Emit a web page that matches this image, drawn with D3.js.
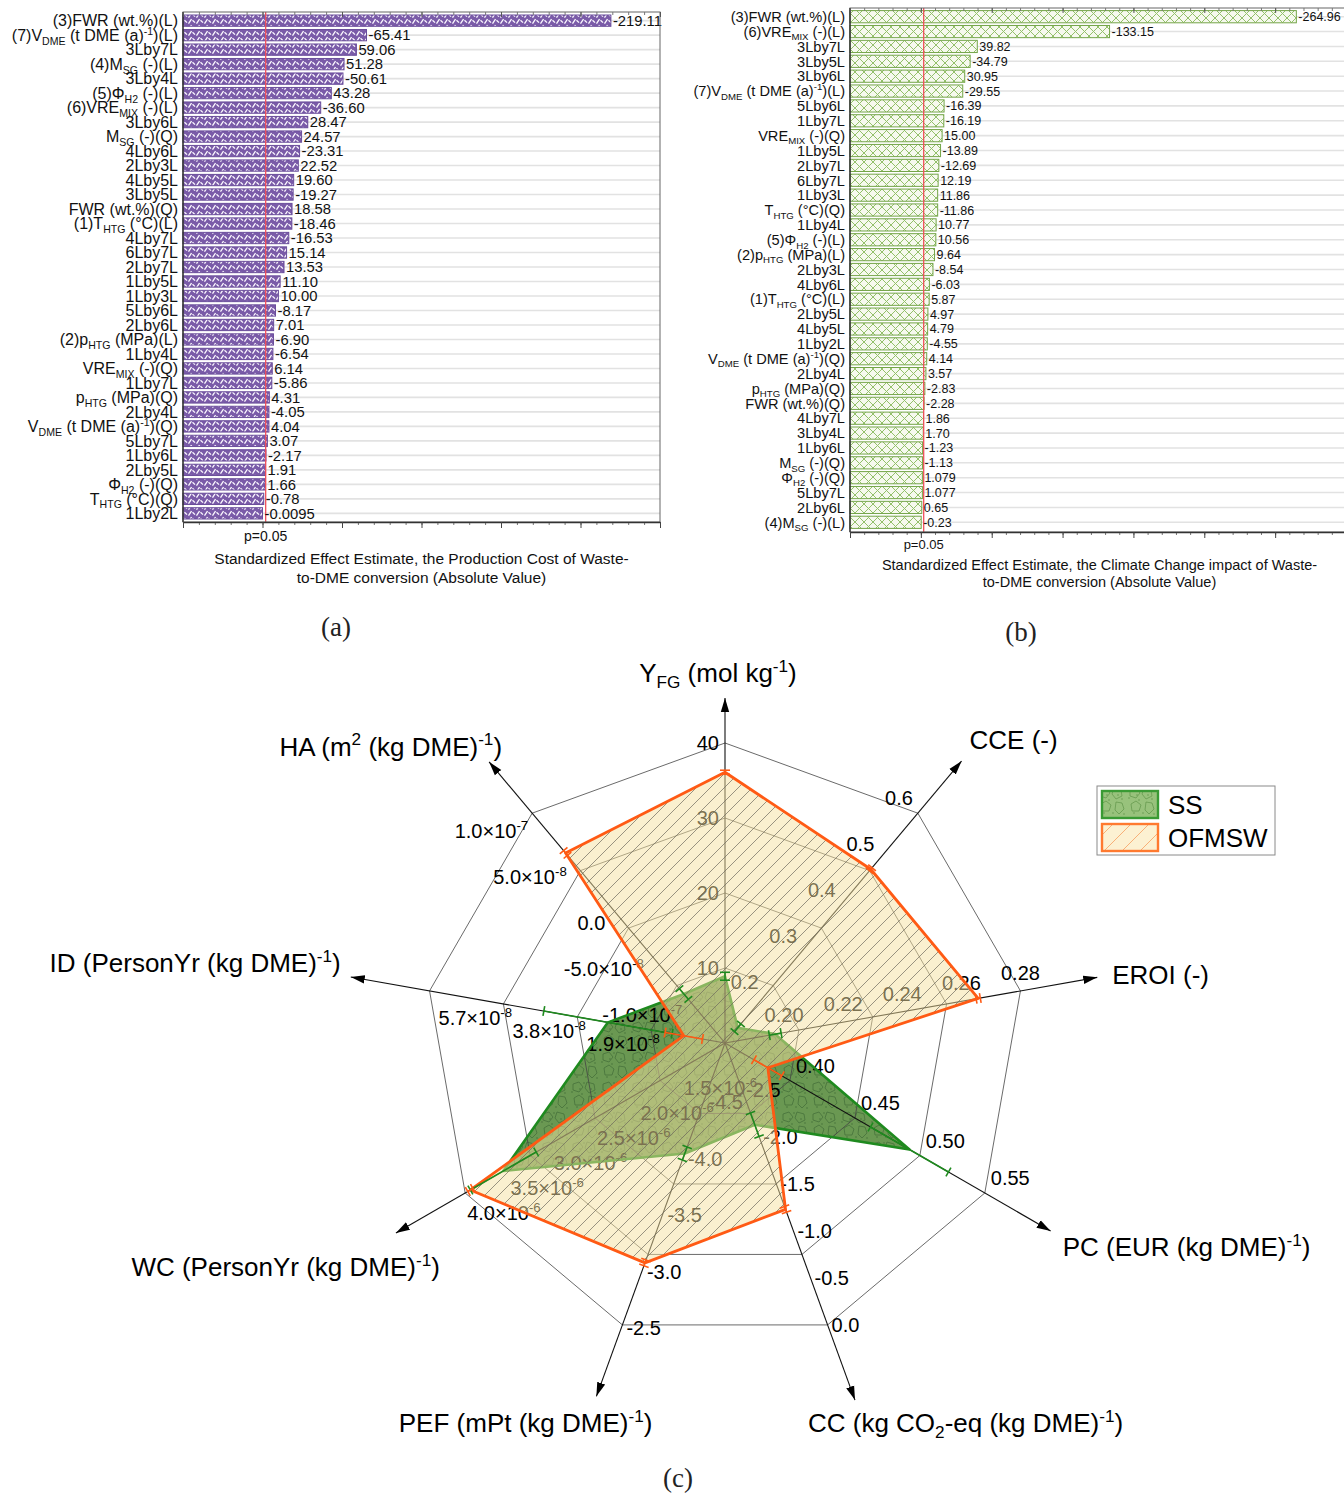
<!DOCTYPE html>
<html>
<head>
<meta charset="utf-8">
<script src="https://cdn.jsdelivr.net/npm/d3@7"></script>
<style>
  body { margin: 0; background: #fff; }
  svg { display: block; font-family: "Liberation Sans", Arial, sans-serif; }
</style>
</head>
<body>
<svg id="fig" width="1344" height="1496"></svg>
<script>
// ---- panel (a): effects on production cost ----
const termsA = ["(3)FWR (wt.%)(L)", "(7)V_{DME} (t DME (a)^{-1})(L)", "3Lby7L", "(4)M_{SG} (-)(L)", "3Lby4L",
  "(5)Φ_{H2} (-)(L)", "(6)VRE_{MIX} (-)(L)", "3Lby6L", "M_{SG} (-)(Q)", "4Lby6L", "2Lby3L", "4Lby5L", "3Lby5L",
  "FWR (wt.%)(Q)", "(1)T_{HTG} (°C)(L)", "4Lby7L", "6Lby7L", "2Lby7L", "1Lby5L", "1Lby3L", "5Lby6L", "2Lby6L",
  "(2)p_{HTG} (MPa)(L)", "1Lby4L", "VRE_{MIX} (-)(Q)", "1Lby7L", "p_{HTG} (MPa)(Q)", "2Lby4L",
  "V_{DME} (t DME (a)^{-1})(Q)", "5Lby7L", "1Lby6L", "2Lby5L", "Φ_{H2} (-)(Q)", "T_{HTG} (°C)(Q)", "1Lby2L"];
const effectA = [-219.11, -65.41, 59.06, 51.28, -50.61, 43.28, -36.60, 28.47, 24.57, -23.31, 22.52, 19.60, -19.27,
  18.58, -18.46, -16.53, 15.14, 13.53, 11.10, 10.00, -8.17, 7.01, -6.90, -6.54, 6.14, -5.86, 4.31, -4.05,
  4.04, 3.07, -2.17, 1.91, 1.66, -0.78, -0.0095];

// ---- panel (b): effects on climate change impact ----
const termsB = ["(3)FWR (wt.%)(L)", "(6)VRE_{MIX} (-)(L)", "3Lby7L", "3Lby5L", "3Lby6L", "(7)V_{DME} (t DME (a)^{-1})(L)",
  "5Lby6L", "1Lby7L", "VRE_{MIX} (-)(Q)", "1Lby5L", "2Lby7L", "6Lby7L", "1Lby3L", "T_{HTG} (°C)(Q)", "1Lby4L",
  "(5)Φ_{H2} (-)(L)", "(2)p_{HTG} (MPa)(L)", "2Lby3L", "4Lby6L", "(1)T_{HTG} (°C)(L)", "2Lby5L", "4Lby5L", "1Lby2L",
  "V_{DME} (t DME (a)^{-1})(Q)", "2Lby4L", "p_{HTG} (MPa)(Q)", "FWR (wt.%)(Q)", "4Lby7L", "3Lby4L", "1Lby6L",
  "M_{SG} (-)(Q)", "Φ_{H2} (-)(Q)", "5Lby7L", "2Lby6L", "(4)M_{SG} (-)(L)"];
const effectB = [-264.96, -133.15, 39.82, -34.79, 30.95, -29.55, -16.39, -16.19, 15.00, -13.89, -12.69, 12.19, 11.86,
  -11.86, 10.77, 10.56, 9.64, -8.54, -6.03, 5.87, 4.97, 4.79, -4.55, 4.14, 3.57, -2.83, -2.28, 1.86, 1.70, -1.23,
  -1.13, 1.079, 1.077, 0.65, -0.23];

const pCrit = 2.0;   // |t| at p=0.05

// ---- panel (c): radar ----
const radarTitles = ["Y_{FG} (mol kg^{-1})", "CCE (-)", "EROI (-)", "PC (EUR (kg DME)^{-1})",
  "CC (kg CO_{2}-eq (kg DME)^{-1})", "PEF (mPt (kg DME)^{-1})", "WC (PersonYr (kg DME)^{-1})",
  "ID (PersonYr (kg DME)^{-1})", "HA (m^{2} (kg DME)^{-1})"];
const axisMin = [0, 0.1, 0.18, 0.35, -3.0, -5.0, 1.0e-6, -1.9e-8, -1.5e-7];
const axisMax = [40, 0.6, 0.28, 0.55, 0.0, -2.5, 4.0e-6, 5.7e-8, 1.0e-7];
const axisTicks = [
  [10, 20, 30, 40],
  [0.2, 0.3, 0.4, 0.5, 0.6],
  [0.20, 0.22, 0.24, 0.26, 0.28],
  [0.40, 0.45, 0.50, 0.55],
  [-2.5, -2.0, -1.5, -1.0, -0.5, 0.0],
  [-4.5, -4.0, -3.5, -3.0, -2.5],
  [1.5e-6, 2.0e-6, 2.5e-6, 3.0e-6, 3.5e-6, 4.0e-6],
  [1.9e-8, 3.8e-8, 5.7e-8],
  [-1.0e-7, -5.0e-8, 0, 5.0e-8, 1.0e-7]
];
const tickFmt = ["0", "1", "2", "2", "1", "1", "e", "e", "e"];
const seriesNames = ["SS", "OFMSW"];
const ssValues = [8.9, 0.133, 0.197, 0.492, -2.13, -4.02, 3.56e-6, 1.11e-8, -9.67e-8];
const ssErrors = [0.53, 0.0083, 0.002, 0.03, 0.125, 0.058, 3.8e-7, 1.65e-8, 5.8e-9];
const ofValues = [36.1, 0.478, 0.2657, 0.383, -1.23, -3.05, 3.94e-6, -8.4e-9, 5.67e-8];
const ofErrors = [0.27, 0.0033, 0.0007, 0.0107, 0.03, 0.025, 3e-8, 4.8e-9, 2.5e-9];

// layout of the radar texts (relative to tick points / arrow tips)
const tipLen = [345, 368, 378, 376, 380, 376, 380, 380, 367];
const tickPos = [
  {dx: -6, dy: 7, a: "end"}, {dx: -5, dy: -8, a: "end"}, {dx: 0, dy: -11, a: "middle"},
  {dx: 6, dy: -8, a: "start"}, {dx: 4, dy: 7, a: "start"}, {dx: 4, dy: 10, a: "start"},
  {dx: 2, dy: 27, a: "start"}, {dx: 9, dy: 34, a: "start"}, {dx: -4, dy: 25, a: "end"}];
const titlePos = [
  {dx: -7, dy: -16, a: "middle"}, {dx: 8, dy: -12, a: "start"}, {dx: 15, dy: 7, a: "start"},
  {dx: 12, dy: 25, a: "start"}, {dx: -47, dy: 32, a: "start"}, {dx: 56, dy: 36, a: "end"},
  {dx: 44, dy: 43, a: "end"}, {dx: -10, dy: -5, a: "end"}, {dx: 13, dy: -6, a: "end"}];

const svg = d3.select("#fig");
const defs = svg.append("defs");

// text with _{sub} and ^{sup}
function rich(sel, str, fs) {
  const re = /([_^])\{([^}]*)\}/g;
  const parts = [];
  let last = 0, m;
  while ((m = re.exec(str)) !== null) {
    if (m.index > last) parts.push([str.slice(last, m.index), ""]);
    parts.push([m[2], m[1]]);
    last = re.lastIndex;
  }
  if (last < str.length) parts.push([str.slice(last), ""]);
  let cur = 0;
  parts.forEach(([t, k]) => {
    const off = k === "_" ? 0.24 * fs : k === "^" ? -0.4 * fs : 0;
    const ts = sel.append("tspan").text(t);
    if (off - cur !== 0) ts.attr("dy", off - cur);
    if (k) ts.attr("font-size", fs * 0.66);
    cur = off;
  });
}

function valText(v) {
  const s = v.toFixed(2);
  return +s === v ? s : String(v);
}

// ---------- patterns ----------
const pPurple = defs.append("pattern").attr("id", "purple").attr("patternUnits", "userSpaceOnUse")
  .attr("width", 8).attr("height", 6);
pPurple.append("rect").attr("width", 8).attr("height", 6).attr("fill", "#7a5ba8");
pPurple.append("path").attr("d", "M0.5,2.2 L3,4.6 M4.5,5.6 L7.5,1")
  .attr("stroke", "#fbf8ff").attr("stroke-width", 1.3);

const pCross = defs.append("pattern").attr("id", "cross").attr("patternUnits", "userSpaceOnUse")
  .attr("width", 9).attr("height", 9);
pCross.append("rect").attr("width", 9).attr("height", 9).attr("fill", "#f6f9ee");
pCross.append("path").attr("d", "M0,0 L9,9 M0,9 L9,0")
  .attr("stroke", "#93c06a").attr("stroke-width", 1);

function cellPattern(id, base, line) {
  const p = defs.append("pattern").attr("id", id).attr("patternUnits", "userSpaceOnUse")
    .attr("width", 30).attr("height", 30);
  p.append("rect").attr("width", 30).attr("height", 30).attr("fill", base);
  p.append("path")
    .attr("d", "M3,4 l6,-2 l4,5 l-4,5 l-6,-2z M17,2 l7,2 l1,6 l-6,3 l-4,-5z M4,18 l5,-3 l5,4 l-2,6 l-7,0z M19,16 l6,1 l2,6 l-5,5 l-4,-4z")
    .attr("fill", "none").attr("stroke", line).attr("stroke-width", 0.7);
  [[14, 3], [2, 12], [12, 14], [25, 13], [16, 27], [7, 27], [27, 28], [10, 9], [21, 9]].forEach(([x, y]) =>
    p.append("circle").attr("cx", x).attr("cy", y).attr("r", 0.7).attr("fill", line));
}
cellPattern("ssTex", "#6a9852", "#416c36");
cellPattern("ssTexLeg", "#98c27c", "#5f9447");

const pHatch = defs.append("pattern").attr("id", "hatch").attr("patternUnits", "userSpaceOnUse")
  .attr("width", 14).attr("height", 14);
pHatch.append("path").attr("d", "M0,14 L14,0 M-3.5,3.5 L3.5,-3.5 M10.5,17.5 L17.5,10.5")
  .attr("stroke", "#6e6a5c").attr("stroke-width", 0.7);

const pHatchLeg = defs.append("pattern").attr("id", "hatchLeg").attr("patternUnits", "userSpaceOnUse")
  .attr("width", 18).attr("height", 18);
pHatchLeg.append("rect").attr("width", 18).attr("height", 18).attr("fill", "#fcf1d2");
pHatchLeg.append("path").attr("d", "M0,18 L18,0")
  .attr("stroke", "#f7a060").attr("stroke-width", 0.8);

defs.append("marker").attr("id", "arr").attr("markerUnits", "userSpaceOnUse")
  .attr("viewBox", "0 0 14 10").attr("refX", 14).attr("refY", 5)
  .attr("markerWidth", 14).attr("markerHeight", 10).attr("orient", "auto")
  .append("path").attr("d", "M0,0.8 L14,5 L0,9.2 Z").attr("fill", "#000");

// ---------- pareto charts ----------
function pareto(c) {
  const g = svg.append("g");
  const x = d3.scaleLinear().domain(c.domain).range([c.left, c.right]);
  const y = d3.scaleBand().domain(d3.range(c.terms.length)).range(c.band).paddingInner(c.pad);
  const yc = i => y(i) + y.bandwidth() / 2;

  g.selectAll("line.grid").data(c.terms).join("line").attr("class", "grid")
    .attr("x1", c.left).attr("x2", c.right).attr("y1", (d, i) => yc(i)).attr("y2", (d, i) => yc(i))
    .attr("stroke", "#e2e2e2").attr("stroke-width", 1.6);

  g.selectAll("rect.bar").data(c.effects).join("rect").attr("class", "bar")
    .attr("x", x(c.domain[0])).attr("y", (d, i) => y(i))
    .attr("width", d => x(Math.abs(d)) - x(c.domain[0])).attr("height", y.bandwidth())
    .attr("fill", `url(#${c.pattern})`).attr("stroke", c.stroke).attr("stroke-width", 1);

  g.append("line").attr("x1", x(pCrit)).attr("x2", x(pCrit)).attr("y1", c.top).attr("y2", c.bottom)
    .attr("stroke", "#f0505a").attr("stroke-width", 1.3);

  g.selectAll("text.val").data(c.effects).join("text").attr("class", "val")
    .attr("x", d => x(Math.abs(d)) + 2).attr("y", (d, i) => yc(i) + 0.36 * c.valSize)
    .attr("font-size", c.valSize).attr("fill", "#111").text(valText);

  g.selectAll("text.term").data(c.terms).join("text").attr("class", "term")
    .attr("x", c.left - 5).attr("y", (d, i) => yc(i) + 0.36 * c.termSize)
    .attr("text-anchor", "end").attr("font-size", c.termSize).attr("fill", "#111")
    .each(function (d) { rich(d3.select(this), d, c.termSize); });

  // frame
  g.append("rect").attr("x", c.left).attr("y", c.top).attr("width", c.right - c.left).attr("height", c.bottom - c.top)
    .attr("fill", "none").attr("stroke", "#666").attr("stroke-width", 1);
  g.append("line").attr("x1", c.left).attr("x2", c.left).attr("y1", c.top).attr("y2", c.bottom)
    .attr("stroke", "#222").attr("stroke-width", 1.2);

  const major = d3.range(c.domain[0], c.domain[1] + 1, 50);
  const minor = d3.range(c.domain[0], c.domain[1] + 1, 10);
  g.append("g").attr("transform", `translate(0,${c.bottom})`)
    .call(d3.axisBottom(x).tickValues(minor).tickSize(3).tickFormat("").tickSizeOuter(0))
    .call(s => s.select(".domain").remove()).selectAll("line").attr("stroke", "#777");
  g.append("g").attr("transform", `translate(0,${c.bottom})`)
    .call(d3.axisBottom(x).tickValues(major).tickSize(6).tickFormat("").tickSizeOuter(0))
    .call(s => s.select(".domain").attr("stroke", "#333").attr("stroke-width", 1.4))
    .selectAll("line").attr("stroke", "#444");
  g.append("g").attr("transform", `translate(0,${c.top})`)
    .call(d3.axisTop(x).tickValues(minor).tickSize(-3).tickFormat("").tickSizeOuter(0))
    .call(s => s.select(".domain").remove()).selectAll("line").attr("stroke", "#777");
  g.append("g").attr("transform", `translate(0,${c.top})`)
    .call(d3.axisTop(x).tickValues(major).tickSize(-5).tickFormat("").tickSizeOuter(0))
    .call(s => s.select(".domain").remove()).selectAll("line").attr("stroke", "#555");

  g.append("text").attr("x", x(pCrit)).attr("y", c.pY).attr("text-anchor", "middle")
    .attr("font-size", c.pSize).attr("fill", "#111").text("p=0.05");
  c.title.forEach((t, i) => g.append("text").attr("x", (c.left + c.titleRight) / 2).attr("y", c.titleY + i * c.titleGap)
    .attr("text-anchor", "middle").attr("font-size", c.titleSize).attr("fill", "#111").text(t));
}

pareto({
  terms: termsA, effects: effectA, domain: [-50, 250], left: 183, right: 660, top: 12, bottom: 522,
  band: [15, 519], pad: 0.22, pattern: "purple", stroke: "#6a4d9b", valSize: 14.8, termSize: 16,
  pY: 541, pSize: 14, titleRight: 660, titleY: 564, titleGap: 19, titleSize: 15.5,
  title: ["Standardized Effect Estimate, the Production Cost of Waste-", "to-DME conversion (Absolute Value)"]
});
pareto({
  terms: termsB, effects: effectB, domain: [-50, 300], left: 850, right: 1346, top: 8, bottom: 532,
  band: [10.6, 528.4], pad: 0.18, pattern: "cross", stroke: "#74a548", valSize: 12.5, termSize: 14.6,
  pY: 549, pSize: 13, titleRight: 1349, titleY: 570, titleGap: 17, titleSize: 14.5,
  title: ["Standardized Effect Estimate, the Climate Change impact of Waste-", "to-DME conversion (Absolute Value)"]
});

// ---------- radar ----------
const cx = 725, cy = 1043, R = 300;
const nAx = radarTitles.length;
const ang = i => i * 2 * Math.PI / nAx;
const rs = axisMin.map((m, i) => d3.scaleLinear().domain([m, axisMax[i]]).range([0, R]));
const P = (i, r) => [cx + r * Math.sin(ang(i)), cy - r * Math.cos(ang(i))];
const closed = d3.line().curve(d3.curveLinearClosed);
const poly = vals => vals.map((v, i) => P(i, rs[i](v)));

function fmtTick(v, f) {
  if (f !== "e") return v.toFixed(+f);
  if (v === 0) return "0.0";
  const e = Math.floor(Math.log10(Math.abs(v)) + 1e-9);
  return (v / Math.pow(10, e)).toFixed(1) + "×10^{" + e + "}";
}

const rg = svg.append("g");
// SS fill
rg.append("path").attr("d", closed(poly(ssValues))).attr("fill", "url(#ssTex)");

// grid rings
[0.25, 0.5, 0.75, 1].forEach(f => {
  rg.append("path").attr("d", closed(d3.range(nAx).map(i => P(i, f * R))))
    .attr("fill", "none").attr("stroke", "#444").attr("stroke-width", 0.8);
});
// axes
d3.range(nAx).forEach(i => {
  const [x2, y2] = P(i, tipLen[i]);
  rg.append("line").attr("x1", cx).attr("y1", cy).attr("x2", x2).attr("y2", y2)
    .attr("stroke", "#111").attr("stroke-width", 1.1).attr("marker-end", "url(#arr)");
});
// tick labels
d3.range(nAx).forEach(i => {
  const o = tickPos[i];
  axisTicks[i].forEach(t => {
    const [x, y] = P(i, rs[i](t));
    const tx = rg.append("text").attr("x", x + o.dx).attr("y", y + o.dy).attr("text-anchor", o.a)
      .attr("font-size", 20).attr("fill", "#000");
    rich(tx, fmtTick(t, tickFmt[i]), 20);
  });
});
// SS outline
rg.append("path").attr("d", closed(poly(ssValues))).attr("fill", "none")
  .attr("stroke", "#1f8a1f").attr("stroke-width", 2.6).attr("stroke-linejoin", "round");

// OFMSW fill overlay
rg.append("path").attr("d", closed(poly(ofValues))).attr("fill", "#f6e2a0").attr("fill-opacity", 0.5);
rg.append("path").attr("d", closed(poly(ofValues))).attr("fill", "url(#hatch)");
rg.append("path").attr("d", closed(poly(ofValues))).attr("fill", "none")
  .attr("stroke", "#ff5a14").attr("stroke-width", 2.8).attr("stroke-linejoin", "round");

// error bars
function errBars(vals, errs, color) {
  vals.forEach((v, i) => {
    const a = ang(i), px = Math.cos(a), py = Math.sin(a);
    const r1 = rs[i](v - errs[i]), r2 = rs[i](v + errs[i]);
    const p1 = P(i, r1), p2 = P(i, r2);
    rg.append("line").attr("x1", p1[0]).attr("y1", p1[1]).attr("x2", p2[0]).attr("y2", p2[1])
      .attr("stroke", color).attr("stroke-width", 1.6);
    [p1, p2].forEach(p => rg.append("line")
      .attr("x1", p[0] - 5 * px).attr("y1", p[1] - 5 * py).attr("x2", p[0] + 5 * px).attr("y2", p[1] + 5 * py)
      .attr("stroke", color).attr("stroke-width", 1.6));
  });
}
errBars(ssValues, ssErrors, "#1f8a1f");
errBars(ofValues, ofErrors, "#ff5a14");

// axis titles
d3.range(nAx).forEach(i => {
  const [x, y] = P(i, tipLen[i]);
  const o = titlePos[i];
  const tx = rg.append("text").attr("x", x + o.dx).attr("y", y + o.dy).attr("text-anchor", o.a)
    .attr("font-size", 26).attr("fill", "#000");
  rich(tx, radarTitles[i], 26);
});

// legend
const lg = svg.append("g").attr("transform", "translate(1097,786)");
lg.append("rect").attr("width", 178).attr("height", 69).attr("fill", "#fff").attr("stroke", "#8a8a8a").attr("stroke-width", 1);
const legFill = ["url(#ssTexLeg)", "url(#hatchLeg)"], legStroke = ["#3a9a34", "#ff7a30"];
seriesNames.forEach((s, i) => {
  lg.append("rect").attr("x", 5).attr("y", 5 + i * 33).attr("width", 56).attr("height", 27)
    .attr("fill", legFill[i]).attr("stroke", legStroke[i]).attr("stroke-width", 2.4);
  lg.append("text").attr("x", 71).attr("y", 28 + i * 33).attr("font-size", 26).attr("fill", "#000").text(s);
});

// panel letters
[["(a)", 336, 636], ["(b)", 1021, 641], ["(c)", 678, 1487]].forEach(([t, x, y]) =>
  svg.append("text").attr("x", x).attr("y", y).attr("text-anchor", "middle")
    .attr("font-family", "'Liberation Serif', 'DejaVu Serif', serif").attr("font-size", 27).attr("fill", "#222").text(t));
</script>
</body>
</html>
